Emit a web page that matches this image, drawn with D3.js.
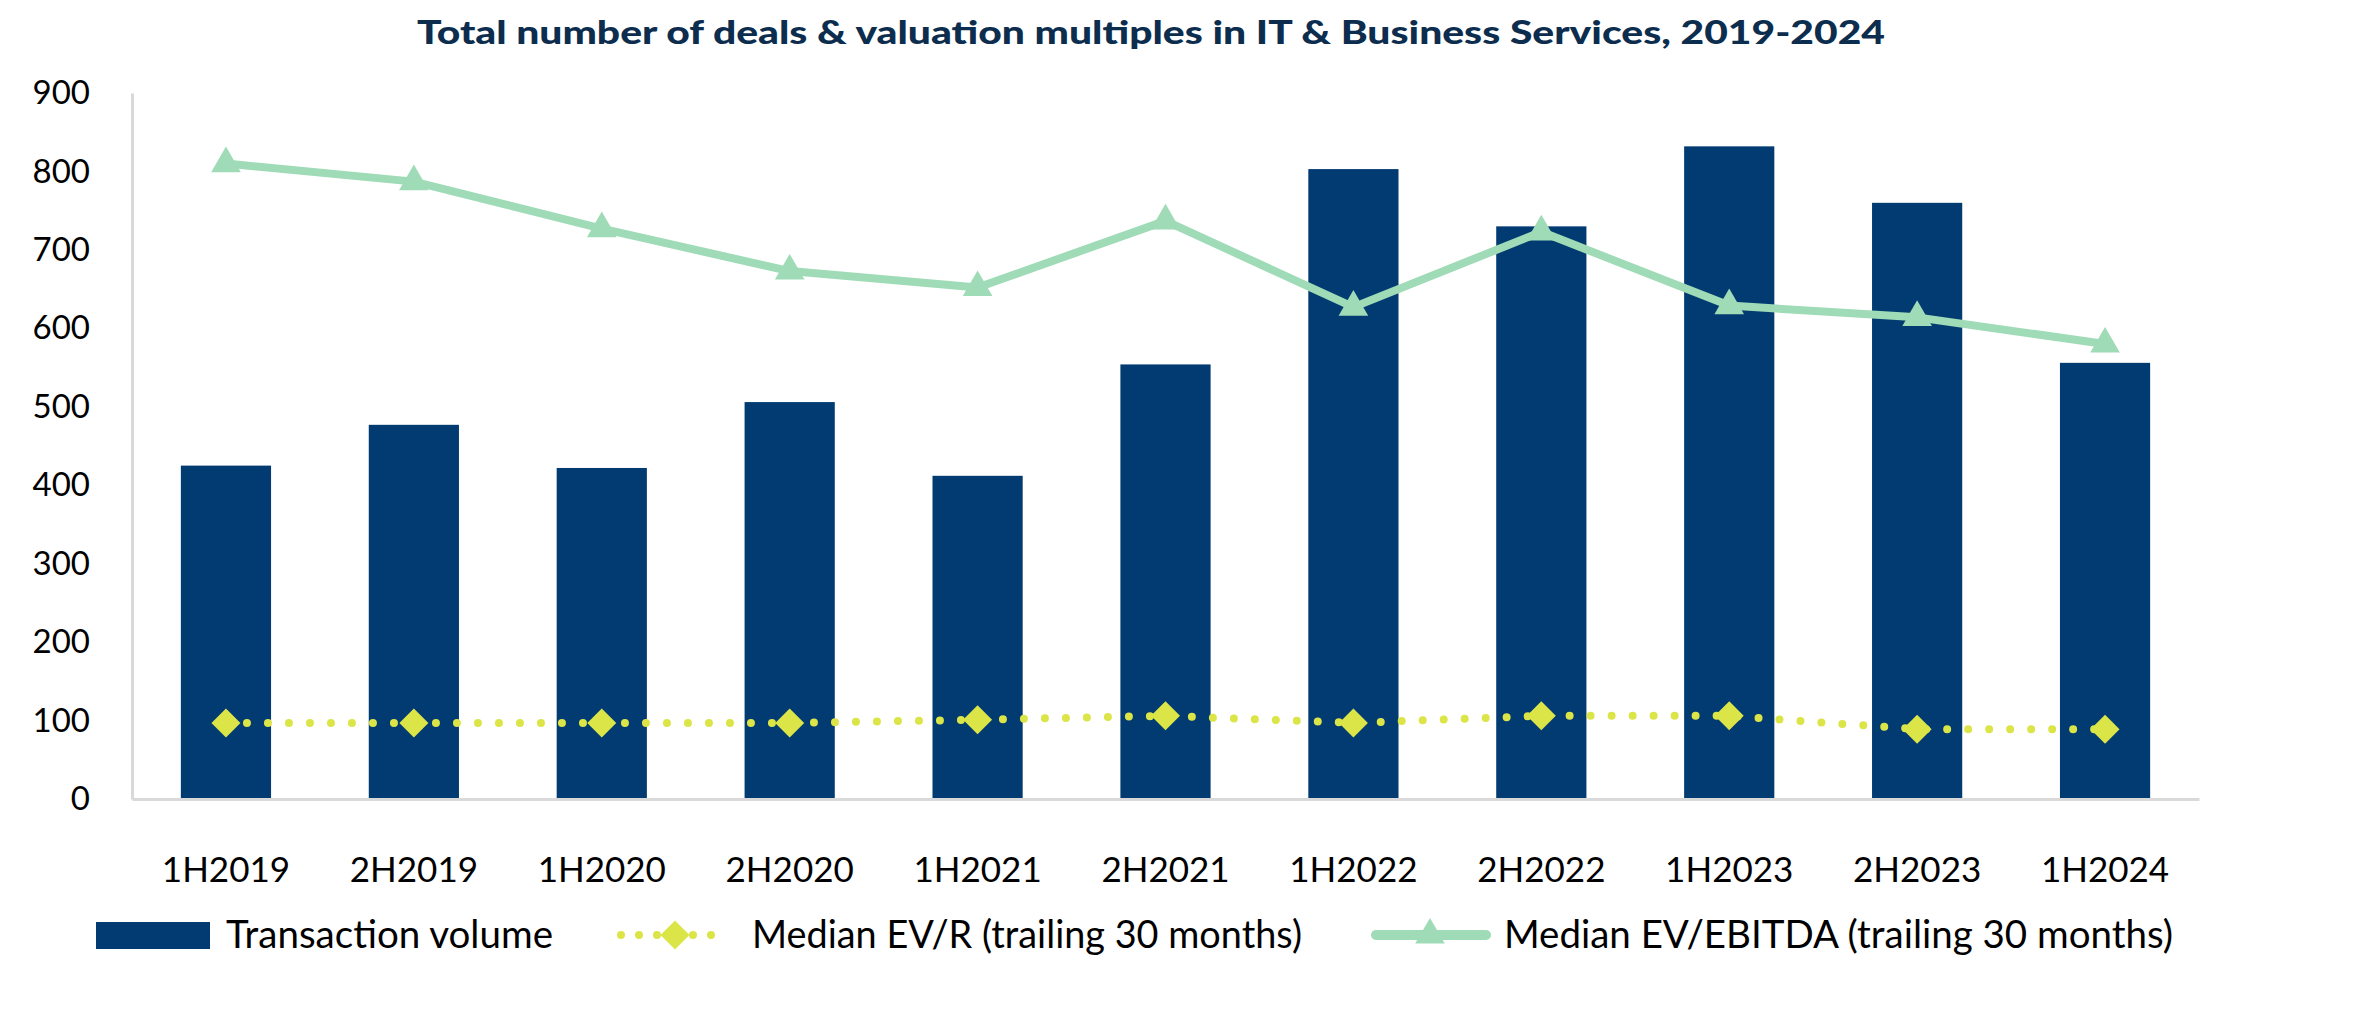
<!DOCTYPE html>
<html>
<head>
<meta charset="utf-8">
<script src="https://cdn.jsdelivr.net/npm/d3@7"></script>
<style>
  html, body { margin: 0; padding: 0; background: #ffffff; }
  svg { display: block; }
</style>
</head>
<body>
<svg id="chart" width="2358" height="1021"></svg>
<script>
// ---------------- DATA ----------------
const categories = ["1H2019","2H2019","1H2020","2H2020","1H2021","2H2021","1H2022","2H2022","1H2023","2H2023","1H2024"];
const transactionVolume = [425, 477, 422, 506, 412, 554, 803, 730, 832, 760, 556];
const medianEVR = [0.97, 0.97, 0.97, 0.97, 1.01, 1.06, 0.97, 1.06, 1.06, 0.89, 0.89];
const medianEVEBITDA = [8.10, 7.87, 7.27, 6.73, 6.52, 7.37, 6.27, 7.23, 6.29, 6.14, 5.80];
const yTicks = [0, 100, 200, 300, 400, 500, 600, 700, 800, 900];
const titleText = "Total number of deals & valuation multiples in IT & Business Services, 2019-2024";
const legendLabels = ["Transaction volume", "Median EV/R (trailing 30 months)", "Median EV/EBITDA (trailing 30 months)"];

// ---------------- STYLE ----------------
const C_BAR = "#023B71";
const C_EVR = "#DCE548";
const C_EBITDA = "#9FDBB6";
const C_AXIS = "#D9D9D9";
const FONT = "Lato, 'Open Sans', sans-serif";

const svg = d3.select("#chart");
const m = { left: 132, right: 2199, top: 93, bottom: 799 };

const x = d3.scaleBand().domain(categories).range([m.left, m.right]).paddingInner(0.52).paddingOuter(0.26);
const y = d3.scaleLinear().domain([0, 900]).range([m.bottom, m.top]);
const y2 = d3.scaleLinear().domain([0, 9]).range([m.bottom, m.top]);

// Title
svg.append("text")
  .attr("x", 1151).attr("y", 44)
  .attr("text-anchor", "middle")
  .attr("font-family", FONT).attr("font-weight", 900).attr("font-size", 33)
  .attr("fill", "#0C2D4E")
  .attr("textLength", 1468).attr("lengthAdjust", "spacingAndGlyphs")
  .text(titleText);

// Y axis (labels only + gray line)
const yAxis = d3.axisLeft(y).tickValues(yTicks).tickSize(0).tickPadding(42);
const gy = svg.append("g").attr("transform", `translate(${m.left},0)`).call(yAxis);
gy.select(".domain").attr("stroke", C_AXIS).attr("stroke-width", 3);
gy.selectAll("text").attr("font-family", FONT).attr("font-size", 33).attr("fill", "#000");

// Bars
svg.append("g").selectAll("rect").data(transactionVolume).join("rect")
  .attr("x", (d, i) => x(categories[i]))
  .attr("width", x.bandwidth())
  .attr("y", d => y(d))
  .attr("height", d => y(0) - y(d))
  .attr("fill", C_BAR);

// X axis
const xAxis = d3.axisBottom(x).tickSize(0).tickPadding(58);
const gx = svg.append("g").attr("transform", `translate(0,${m.bottom})`).call(xAxis);
gx.select(".domain").attr("stroke", C_AXIS).attr("stroke-width", 3);
gx.selectAll("text").attr("font-family", FONT).attr("font-size", 35).attr("fill", "#000");

const cx = (i) => x(categories[i]) + x.bandwidth() / 2;

// EV/R dotted line
const lineEVR = d3.line().x((d, i) => cx(i)).y(d => y2(d));
svg.append("path").datum(medianEVR)
  .attr("d", lineEVR)
  .attr("fill", "none").attr("stroke", C_EVR)
  .attr("stroke-width", 8).attr("stroke-linecap", "round")
  .attr("stroke-dasharray", "0 21");
const diamond = d3.symbol(d3.symbolSquare, 420);
svg.append("g").selectAll("path").data(medianEVR).join("path")
  .attr("d", diamond)
  .attr("transform", (d, i) => `translate(${cx(i)},${y2(d)}) rotate(45)`)
  .attr("fill", C_EVR);

// EV/EBITDA line
const lineEB = d3.line().x((d, i) => cx(i)).y(d => y2(d));
svg.append("path").datum(medianEVEBITDA)
  .attr("d", lineEB)
  .attr("fill", "none").attr("stroke", C_EBITDA)
  .attr("stroke-width", 8).attr("stroke-linejoin", "round");
const tri = d3.symbol(d3.symbolTriangle, 380);
svg.append("g").selectAll("path").data(medianEVEBITDA).join("path")
  .attr("d", tri)
  .attr("transform", (d, i) => `translate(${cx(i)},${y2(d)})`)
  .attr("fill", C_EBITDA);

// Legend
const lg = svg.append("g");
const ly = 935;
const legendTextStyle = (sel) => sel.attr("font-family", FONT).attr("font-size", 38).attr("fill", "#000")
  .attr("lengthAdjust", "spacingAndGlyphs");
lg.append("rect").attr("x", 96).attr("y", ly - 13).attr("width", 114).attr("height", 27).attr("fill", C_BAR);
lg.append("text").attr("x", 226).attr("y", ly + 13).call(legendTextStyle).attr("textLength", 327).text(legendLabels[0]);

lg.append("line").attr("x1", 621).attr("x2", 729).attr("y1", ly).attr("y2", ly)
  .attr("stroke", C_EVR).attr("stroke-width", 8).attr("stroke-linecap", "round").attr("stroke-dasharray", "0 18");
lg.append("path").attr("d", diamond).attr("transform", `translate(675,${ly}) rotate(45)`).attr("fill", C_EVR);
lg.append("text").attr("x", 752).attr("y", ly + 13).call(legendTextStyle).attr("textLength", 550).text(legendLabels[1]);

lg.append("line").attr("x1", 1376).attr("x2", 1486).attr("y1", ly).attr("y2", ly)
  .attr("stroke", C_EBITDA).attr("stroke-width", 10).attr("stroke-linecap", "round");
lg.append("path").attr("d", tri).attr("transform", `translate(1430,${ly})`).attr("fill", C_EBITDA);
lg.append("text").attr("x", 1504).attr("y", ly + 13).call(legendTextStyle).attr("textLength", 669).text(legendLabels[2]);
</script>
</body>
</html>
